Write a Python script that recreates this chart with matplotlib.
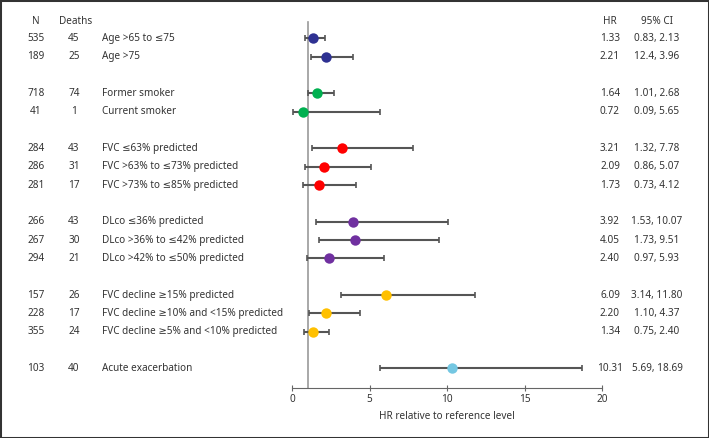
import matplotlib
matplotlib.use("Agg")
import matplotlib.pyplot as plt
import matplotlib.transforms as mtransforms
from matplotlib.patches import Rectangle

plt.rcParams["font.family"] = ["Noto Sans", "DejaVu Sans"]
plt.rcParams["font.size"] = 7.2

# data
labels = ["Age >65 to \u226475", "Age >75",
          "Former smoker", "Current smoker",
          "FVC \u226463% predicted", "FVC >63% to \u226473% predicted", "FVC >73% to \u226485% predicted",
          "DLco \u226436% predicted", "DLco >36% to \u226442% predicted", "DLco >42% to \u226450% predicted",
          "FVC decline \u226515% predicted", "FVC decline \u226510% and <15% predicted",
          "FVC decline \u22655% and <10% predicted",
          "Acute exacerbation"]
n_pts = [535, 189, 718, 41, 284, 286, 281, 266, 267, 294, 157, 228, 355, 103]
deaths = [45, 25, 74, 1, 43, 31, 17, 43, 30, 21, 26, 17, 24, 40]
hr = [1.33, 2.21, 1.64, 0.72, 3.21, 2.09, 1.73, 3.92, 4.05, 2.40, 6.09, 2.20, 1.34, 10.31]
ci_lo = [0.83, 1.24, 1.01, 0.09, 1.32, 0.86, 0.73, 1.53, 1.73, 0.97, 3.14, 1.10, 0.75, 5.69]
ci_hi = [2.13, 3.96, 2.68, 5.65, 7.78, 5.07, 4.12, 10.07, 9.51, 5.93, 11.80, 4.37, 2.40, 18.69]
hr_text = ["1.33", "2.21", "1.64", "0.72", "3.21", "2.09", "1.73", "3.92", "4.05", "2.40",
           "6.09", "2.20", "1.34", "10.31"]
ci_text = ["0.83, 2.13", "12.4, 3.96", "1.01, 2.68", "0.09, 5.65", "1.32, 7.78", "0.86, 5.07",
           "0.73, 4.12", "1.53, 10.07", "1.73, 9.51", "0.97, 5.93", "3.14, 11.80", "1.10, 4.37",
           "0.75, 2.40", "5.69, 18.69"]
rows = [1, 2, 4, 5, 7, 8, 9, 11, 12, 13, 15, 16, 17, 19]
group_colors = ["#2E3192", "#2E3192", "#00B050", "#00B050",
                "#FF0000", "#FF0000", "#FF0000",
                "#7030A0", "#7030A0", "#7030A0",
                "#FFC000", "#FFC000", "#FFC000", "#74C7E2"]

W, H = 709, 438
fig = plt.figure(figsize=(W / 100, H / 100), dpi=100)
fig.patches.append(Rectangle((0, 0), 1, 1, transform=fig.transFigure, fill=False,
                             edgecolor="#333333", linewidth=2.2))

ax = fig.add_axes([292 / W, 50 / H, 310 / W, 368 / H])
ax.set_xlim(0, 20)
ax.set_ylim(20.07, 0)

txt_color = "#333333"
ax.plot([1, 1], [20.07, 0.1], color="#999999", linewidth=1.2, zorder=1)

for i, r in enumerate(rows):
    ax.errorbar(hr[i], r, xerr=[[hr[i] - ci_lo[i]], [ci_hi[i] - hr[i]]], fmt="none",
                ecolor="#555555", elinewidth=1.5, capsize=2.5, capthick=1.2, zorder=2)
    ax.plot(hr[i], r, "o", color=group_colors[i], markersize=7.5, markeredgewidth=0, zorder=3)

tr = mtransforms.blended_transform_factory(fig.transFigure, ax.transData)
ax.text(36 / W, 0.1, "N", transform=tr, ha="center", va="center", color=txt_color)
ax.text(76 / W, 0.1, "Deaths", transform=tr, ha="center", va="center", color=txt_color)
ax.text(610 / W, 0.1, "HR", transform=tr, ha="center", va="center", color=txt_color)
ax.text(657 / W, 0.1, "95% CI", transform=tr, ha="center", va="center", color=txt_color)
for i, r in enumerate(rows):
    ax.text(36 / W, r, str(n_pts[i]), transform=tr, ha="center", va="center", color=txt_color)
    ax.text(74 / W, r, str(deaths[i]), transform=tr, ha="center", va="center", color=txt_color)
    ax.text(102 / W, r, labels[i], transform=tr, ha="left", va="center", color=txt_color)
    ax.text(610 / W, r, hr_text[i], transform=tr, ha="center", va="center", color=txt_color)
    ax.text(657 / W, r, ci_text[i], transform=tr, ha="center", va="center", color=txt_color)

for s in ["left", "top", "right"]:
    ax.spines[s].set_visible(False)
ax.spines["bottom"].set_bounds(0, 20)
ax.spines["bottom"].set_color("#666666")
ax.set_yticks([])
ax.set_xticks([0, 5, 10, 15, 20])
ax.tick_params(axis="x", direction="inout", length=5, width=0.8, color="#666666",
               labelcolor=txt_color, pad=2)
ax.set_xlabel("HR relative to reference level", color=txt_color, labelpad=4)
ax.patch.set_visible(False)

fig.savefig("out.png", dpi=100)
